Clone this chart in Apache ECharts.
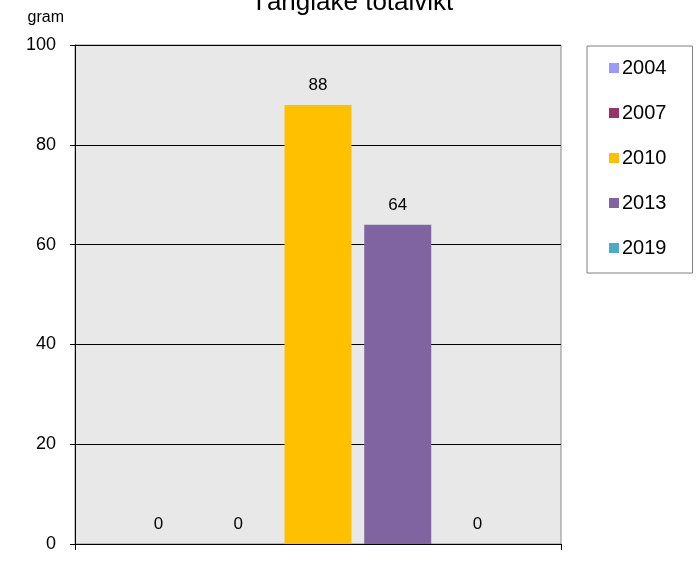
<!DOCTYPE html>
<html><head><meta charset="utf-8">
<script src="https://cdn.jsdelivr.net/npm/echarts@6/dist/echarts.min.js"></script>
<style>html,body{margin:0;padding:0;background:#fff}#c{width:697px;height:568px}</style>
</head><body><div id="c"></div>
<script>
const categories = [''];
const seriesNames = ['2004', '2007', '2010', '2013', '2019'];
const seriesValues = [[0], [0], [88], [64], [0]];
const seriesColors = ['#9999ff', '#993366', '#ffc000', '#8064a2', '#4bacc6'];
const yTicks = { min: 0, max: 100, interval: 20 };

const chart = echarts.init(document.getElementById('c'));
const font = 'Liberation Sans, Arial, sans-serif';
chart.setOption({
  animation: false,
  title: { text: 'Tånglake totalvikt', left: 246, top: -15,
    textStyle: { fontFamily: font, fontWeight: 'normal', fontSize: 26, color: '#000' } },
  legend: {
    orient: 'vertical', left: 587, top: 46,
    padding: [12, 26, 15, 22], itemGap: 25, itemWidth: 10, itemHeight: 10,
    borderColor: '#808080', borderWidth: 1,
    icon: 'rect',
    textStyle: { fontFamily: font, fontSize: 20, color: '#000', padding: [0, 0, 0, -2] },
    data: seriesNames
  },
  grid: { left: 75, right: 136, top: 45, bottom: 24, show: true,
    backgroundColor: '#e8e8e8', borderColor: '#8c8c8c', borderWidth: 1 },
  xAxis: { type: 'category', data: categories,
    axisLine: { lineStyle: { color: '#000' } },
    axisTick: { show: true, length: 6, lineStyle: { color: '#000' } },
    axisLabel: { show: false } },
  yAxis: { type: 'value', min: yTicks.min, max: yTicks.max, interval: yTicks.interval,
    name: 'gram', nameLocation: 'end', nameGap: 19,
    nameTextStyle: { fontFamily: font, fontSize: 16, color: '#000', align: 'right', padding: [0, 11, 0, 0] },
    axisLine: { show: true, lineStyle: { color: '#000' } },
    axisTick: { show: true, length: 5, lineStyle: { color: '#000' } },
    axisLabel: { fontFamily: font, fontSize: 18, color: '#000', margin: 19 },
    splitLine: { lineStyle: { color: '#000', width: 1 } } },
  series: seriesNames.map((n, i) => ({
    name: n, type: 'bar', data: seriesValues[i], barWidth: 67, barGap: '19%',
    itemStyle: { color: seriesColors[i] },
    label: { show: true, position: 'top', distance: 11, fontFamily: font, fontSize: 17, color: '#000' }
  }))
});
</script></body></html>
